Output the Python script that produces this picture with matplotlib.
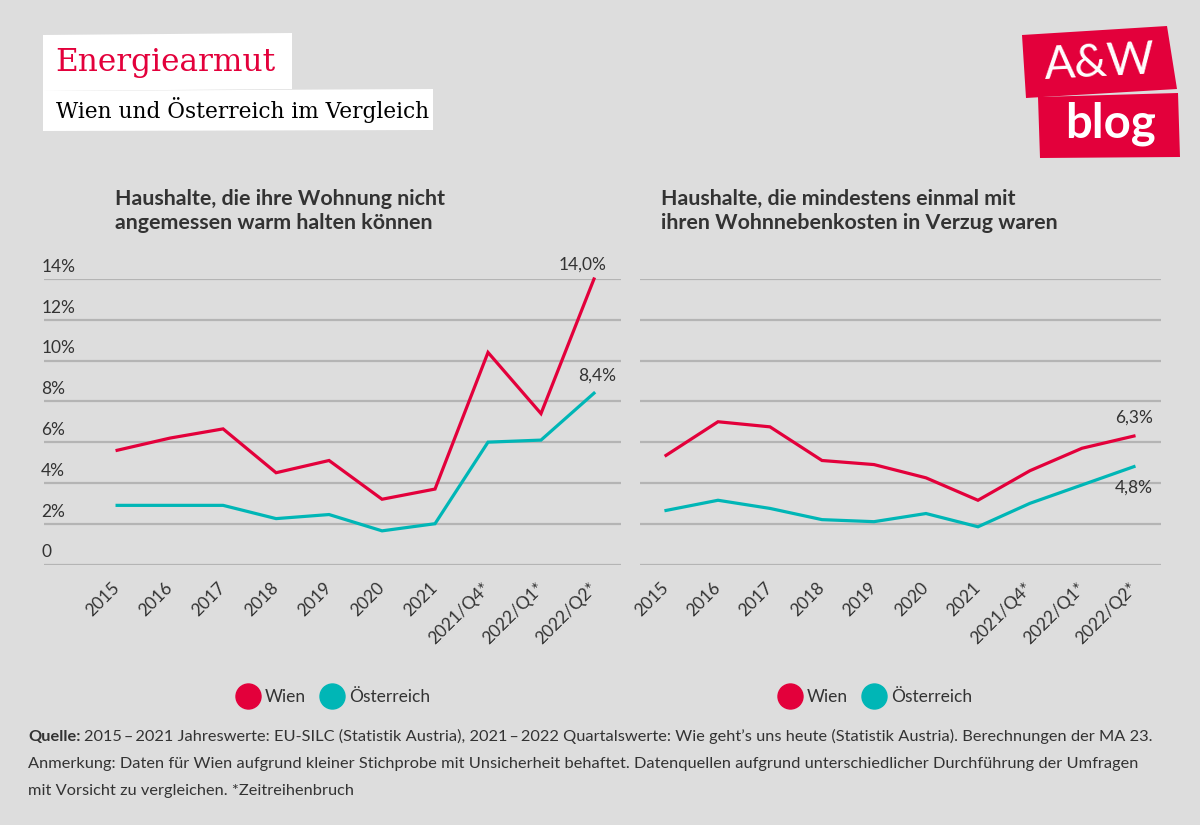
import matplotlib
matplotlib.use("Agg")
import matplotlib.pyplot as plt
from matplotlib.lines import Line2D
from matplotlib.patches import Polygon
import matplotlib.transforms as mtransforms

plt.rcParams['font.family'] = ['Lato', 'DejaVu Sans']

# %% data
kategorien = ['2015', '2016', '2017', '2018', '2019', '2020', '2021',
              '2021/Q4*', '2022/Q1*', '2022/Q2*']

# Haushalte, die ihre Wohnung nicht angemessen warm halten koennen (%)
warm_wien = [5.6, 6.2, 6.65, 4.5, 5.1, 3.2, 3.7, 10.4, 7.4, 14.0]
warm_oe = [2.9, 2.9, 2.9, 2.25, 2.45, 1.65, 2.0, 6.0, 6.1, 8.4]

# Haushalte mit Zahlungsverzug bei Wohnnebenkosten (%)
verzug_wien = [5.35, 7.0, 6.75, 5.1, 4.9, 4.25, 3.15, 4.6, 5.7, 6.3]
verzug_oe = [2.65, 3.15, 2.75, 2.2, 2.1, 2.5, 1.85, 3.0, 3.9, 4.8]

ytick_werte = [0, 2, 4, 6, 8, 10, 12, 14]
ytick_labels = ['0', '2%', '4%', '6%', '8%', '10%', '12%', '14%']

# %% style
BG = '#dddddd'
ROT = '#e3003b'
TUERKIS = '#00b6b6'
GRID = '#b4b4b4'
TXT = '#333333'

W, H = 1200, 825
fig = plt.figure(figsize=(12, 8.25), dpi=100, facecolor=BG)


def fx(x):
    return x / W


def fy(y):
    return 1 - y / H


def px_poly(pts, **kw):
    return Polygon([(fx(x), fy(y)) for x, y in pts], closed=True,
                   transform=fig.transFigure, **kw)


y0, y14 = 564.5, 279
ax1 = fig.add_axes([fx(44), fy(y0), (621 - 44) / W, (y0 - y14) / H])
ax2 = fig.add_axes([fx(640), fy(y0), (1161 - 640) / W, (y0 - y14) / H])

for ax, wien, oe, xlim in [(ax1, warm_wien, warm_oe, (-1.38, 9.51)),
                           (ax2, verzug_wien, verzug_oe, (-0.5, 9.52))]:
    ax.set_facecolor(BG)
    x = list(range(len(kategorien)))
    ax.plot(x, wien, color=ROT, lw=2.3, clip_on=False, zorder=3,
            solid_joinstyle='miter')
    ax.plot(x, oe, color=TUERKIS, lw=2.3, clip_on=False, zorder=3,
            solid_joinstyle='miter')
    ax.set_xlim(*xlim)
    ax.set_ylim(0, 14)
    ax.set_yticks(ytick_werte)
    ax.yaxis.grid(True, color=GRID, lw=1.6)
    ax.set_axisbelow(True)
    ax.tick_params(axis='y', length=0, labelleft=False)
    ax.set_xticks(x)
    ax.set_xticklabels(kategorien, rotation=45, ha='right', va='center',
                       rotation_mode='anchor', fontsize=12.5, color=TXT)
    ax.tick_params(axis='x', length=0, pad=15)
    for s in ax.spines.values():
        s.set_visible(False)

# y labels only left chart, sitting above the gridlines
trans = mtransforms.offset_copy(ax1.get_yaxis_transform(), fig=fig,
                                x=-2, y=3, units='points')
for v, lab in zip(ytick_werte, ytick_labels):
    ax1.text(0, v, lab, transform=trans, ha='left', va='bottom',
             fontsize=12.5, color=TXT)

# end labels
def endlabel(ax, xv, yv, text, dx, dy):
    ax.annotate(text, (xv, yv), xytext=(dx, dy), textcoords='offset points',
                ha='center', va='center', fontsize=12.5, color=TXT,
                annotation_clip=False)

endlabel(ax1, 9, warm_wien[-1], '14,0%', -8, 10)
endlabel(ax1, 9, warm_oe[-1], '8,4%', 2, 13)
endlabel(ax2, 9, verzug_wien[-1], '6,3%', 0, 13)
endlabel(ax2, 9, verzug_oe[-1], '4,8%', 0, -15)

# subplot titles
fig.text(fx(115), fy(211), 'Haushalte, die ihre Wohnung nicht\nangemessen warm halten können',
         fontsize=15.4, fontweight='bold', color=TXT, va='center', ha='left',
         linespacing=1.3)
fig.text(fx(661), fy(211), 'Haushalte, die mindestens einmal mit\nihren Wohnnebenkosten in Verzug waren',
         fontsize=15.4, fontweight='bold', color=TXT, va='center', ha='left',
         linespacing=1.3)

# legends
handles = [Line2D([], [], marker='o', ls='', ms=18, color=ROT, label='Wien'),
           Line2D([], [], marker='o', ls='', ms=18, color=TUERKIS, label='Österreich')]
for cx in (334, 876):
    fig.legend(handles=handles, loc='center', bbox_to_anchor=(fx(cx), fy(697)),
               ncol=2, frameon=False, fontsize=12.5, handletextpad=0.4,
               columnspacing=0.9, handlelength=1.2, labelcolor=TXT)

# header
fig.patches.append(px_poly([(43, 35), (292, 33), (292, 89), (43, 91)],
                           facecolor='white', edgecolor='none'))
fig.patches.append(px_poly([(43, 91), (433, 89), (433, 130), (43, 131)],
                           facecolor='white', edgecolor='none'))
fig.text(fx(55), fy(63), 'Energiearmut', fontsize=22.5, color=ROT,
         family='DejaVu Serif', va='center', ha='left')
fig.text(fx(56), fy(110), 'Wien und Österreich im Vergleich', fontsize=15.6,
         color='black', family='DejaVu Serif', va='center', ha='left')

# logo
fig.patches.append(px_poly([(1022, 35), (1167, 26), (1177, 89), (1026, 98)],
                           facecolor=ROT, edgecolor='none'))
fig.patches.append(px_poly([(1038, 97), (1178, 93), (1180, 157), (1040, 158)],
                           facecolor=ROT, edgecolor='none'))
fig.text(fx(1100), fy(63), 'A&W', fontsize=33, color='white',
         va='center', ha='center', fontweight='normal', rotation=3)
fig.text(fx(1110), fy(124), 'blog', fontsize=34, color='white',
         va='center', ha='center', fontweight='bold')

# footnote
FS = 11.8
q = fig.text(fx(28), fy(741), 'Quelle:', fontsize=FS, color=TXT,
             va='baseline', ha='left', fontweight='bold')
fig.canvas.draw()
bb = q.get_window_extent()
fig.text((bb.x1 + 4) / W, fy(741),
         '2015\u2009–\u20092021 Jahreswerte: EU-SILC (Statistik Austria), 2021\u2009–\u20092022 Quartalswerte: '
         'Wie geht’s uns heute (Statistik Austria). Berechnungen der MA 23.',
         fontsize=FS, color=TXT, va='baseline', ha='left')
fig.text(fx(28), fy(768),
         'Anmerkung: Daten für Wien aufgrund kleiner Stichprobe mit Unsicherheit behaftet. '
         'Datenquellen aufgrund unterschiedlicher Durchführung der Umfragen',
         fontsize=FS, color=TXT, va='baseline', ha='left')
fig.text(fx(28), fy(795), 'mit Vorsicht zu vergleichen. *Zeitreihenbruch',
         fontsize=FS, color=TXT, va='baseline', ha='left')

fig.savefig('out.png', dpi=100, facecolor=BG)
